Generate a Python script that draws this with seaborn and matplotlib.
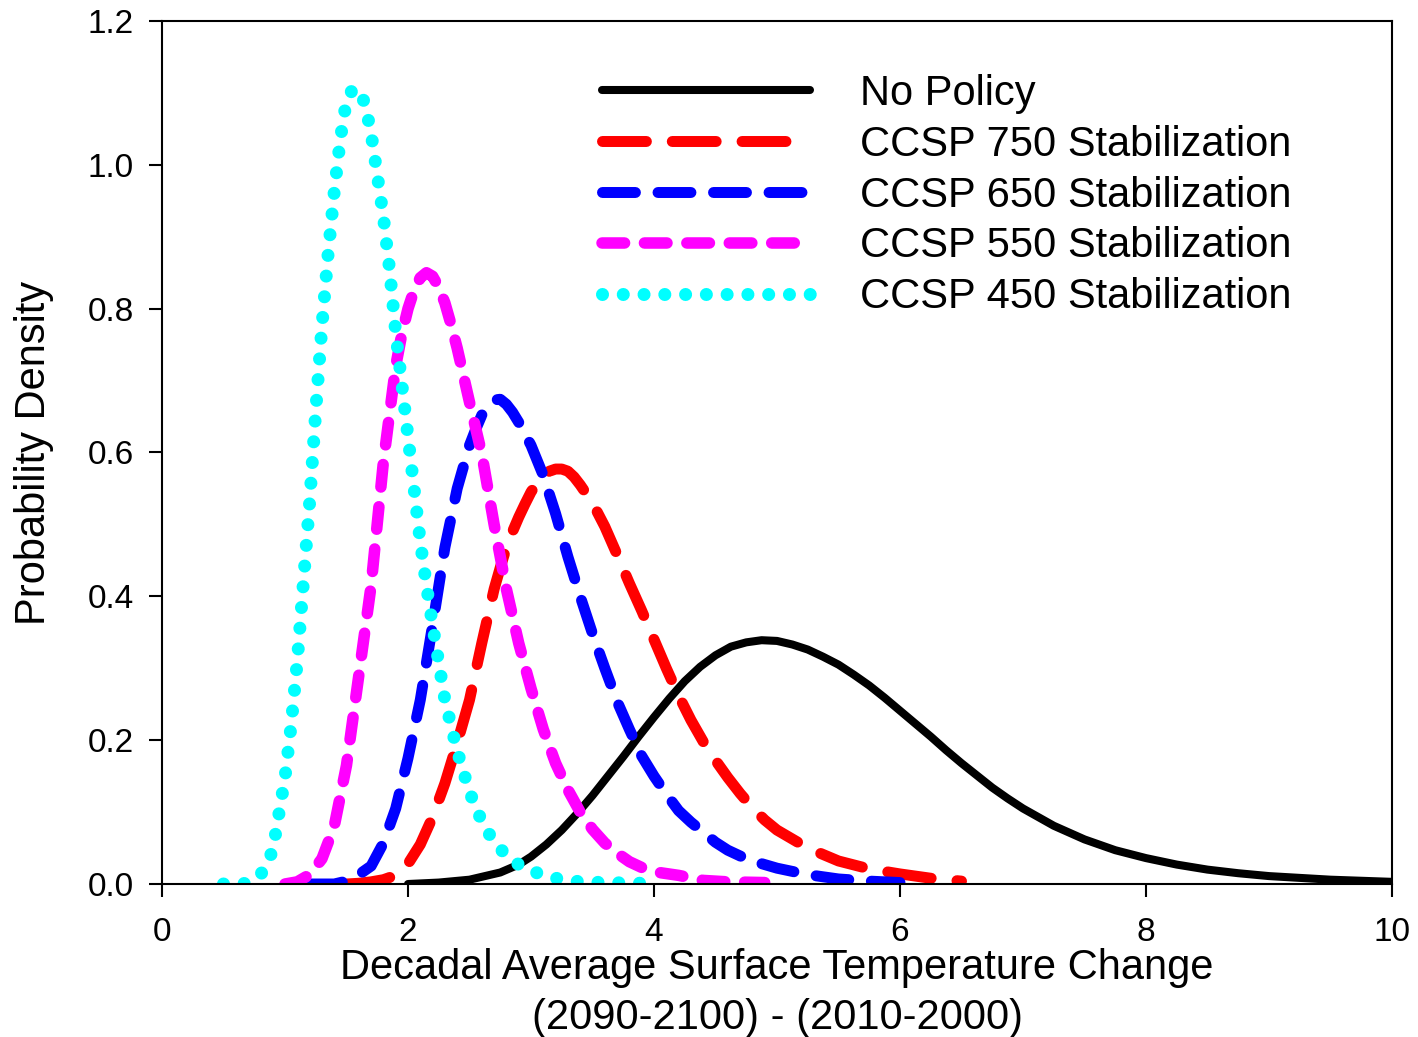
import numpy as np
import pandas as pd
import matplotlib
matplotlib.use("Agg")
import matplotlib.pyplot as plt
import seaborn as sns

# Probability density of decadal-average warming, per policy scenario
no_policy_x = [2.0, 2.25, 2.5, 2.75, 2.9, 3.0, 3.125, 3.25, 3.375, 3.5, 3.625,
               3.75, 3.875, 4.0, 4.125, 4.25, 4.375, 4.5, 4.625, 4.75, 4.875,
               5.0, 5.125, 5.25, 5.375, 5.5, 5.625, 5.75, 5.875, 6.0, 6.125,
               6.25, 6.375, 6.5, 6.625, 6.75, 6.875, 7.0, 7.25, 7.5, 7.75, 8.0,
               8.25, 8.5, 8.75, 9.0, 9.5, 10.0]
no_policy_y = [0.0, 0.002, 0.006, 0.016, 0.027, 0.038, 0.055, 0.075, 0.098,
               0.123, 0.150, 0.177, 0.205, 0.232, 0.258, 0.282, 0.302, 0.318,
               0.330, 0.336, 0.339, 0.338, 0.333, 0.326, 0.316, 0.305, 0.291,
               0.276, 0.259, 0.241, 0.223, 0.205, 0.186, 0.168, 0.151, 0.134,
               0.119, 0.105, 0.081, 0.062, 0.047, 0.036, 0.027, 0.020, 0.015,
               0.011, 0.006, 0.003]

ccsp750_x = [1.5, 1.6, 1.7, 1.8, 1.9, 2.0, 2.1, 2.2, 2.3, 2.4, 2.5, 2.6, 2.7,
             2.75, 2.8, 2.85, 2.9, 2.95, 3.0, 3.05, 3.1, 3.15, 3.2, 3.25, 3.3,
             3.35, 3.4, 3.5, 3.6, 3.7, 3.8, 3.9, 4.0, 4.1, 4.2, 4.3, 4.4, 4.5,
             4.6, 4.7, 4.8, 4.9, 5.0, 5.25, 5.5, 5.75, 6.0, 6.25, 6.5]
ccsp750_y = [0.0, 0.001, 0.003, 0.006, 0.012, 0.028, 0.055, 0.093, 0.140,
             0.196, 0.256, 0.335, 0.410, 0.440, 0.468, 0.490, 0.510, 0.528,
             0.545, 0.558, 0.568, 0.574, 0.577, 0.577, 0.574, 0.566, 0.555,
             0.530, 0.497, 0.458, 0.418, 0.380, 0.340, 0.300, 0.262, 0.228,
             0.198, 0.172, 0.148, 0.126, 0.106, 0.089, 0.075, 0.050, 0.032,
             0.021, 0.014, 0.008, 0.004]

ccsp650_x = [1.2, 1.4, 1.5, 1.6, 1.7, 1.8, 1.9, 2.0, 2.1, 2.2, 2.3, 2.4, 2.5,
             2.55, 2.6, 2.65, 2.7, 2.75, 2.8, 2.85, 2.9, 3.0, 3.1, 3.2, 3.3,
             3.4, 3.5, 3.6, 3.7, 3.8, 3.9, 4.0, 4.1, 4.2, 4.3, 4.4, 4.5, 4.6,
             4.7, 4.8, 5.0, 5.25, 5.5, 5.75, 6.0]
ccsp650_y = [0.0, 0.0, 0.004, 0.013, 0.025, 0.057, 0.105, 0.175, 0.256, 0.360,
             0.468, 0.550, 0.610, 0.632, 0.652, 0.665, 0.673, 0.674, 0.667,
             0.656, 0.642, 0.610, 0.568, 0.515, 0.455, 0.400, 0.348, 0.300,
             0.254, 0.215, 0.178, 0.150, 0.125, 0.102, 0.086, 0.072, 0.058,
             0.047, 0.039, 0.032, 0.022, 0.013, 0.007, 0.004, 0.002]

ccsp550_x = [1.0, 1.1, 1.2, 1.3, 1.4, 1.5, 1.6, 1.7, 1.8, 1.9, 1.95, 2.0, 2.05,
             2.1, 2.15, 2.2, 2.25, 2.3, 2.35, 2.4, 2.5, 2.6, 2.7, 2.8, 2.9,
             3.0, 3.1, 3.2, 3.3, 3.4, 3.5, 3.6, 3.7, 3.8, 3.9, 4.0, 4.2, 4.4,
             4.6, 4.9]
ccsp550_y = [0.0, 0.003, 0.013, 0.035, 0.080, 0.165, 0.290, 0.415, 0.587,
             0.720, 0.765, 0.800, 0.826, 0.843, 0.850, 0.845, 0.830, 0.808,
             0.778, 0.745, 0.670, 0.598, 0.500, 0.410, 0.335, 0.272, 0.215,
             0.168, 0.131, 0.100, 0.076, 0.057, 0.043, 0.031, 0.023, 0.017,
             0.012, 0.005, 0.003, 0.002]

ccsp450_x = [0.5, 0.66, 0.8, 0.9, 1.0, 1.05, 1.1, 1.15, 1.2, 1.25, 1.3, 1.35,
             1.4, 1.45, 1.5, 1.55, 1.6, 1.65, 1.7, 1.75, 1.8, 1.85, 1.9, 1.95,
             2.0, 2.05, 2.1, 2.15, 2.2, 2.3, 2.4, 2.5, 2.6, 2.7, 2.8, 2.9, 3.0,
             3.2, 3.4, 3.6, 3.9]
ccsp450_y = [0.0, 0.0, 0.012, 0.046, 0.148, 0.221, 0.31, 0.42, 0.53, 0.658,
             0.775, 0.875, 0.962, 1.036, 1.09, 1.105, 1.105, 1.085, 1.044, 0.986,
             0.928, 0.855, 0.767, 0.695, 0.622, 0.549, 0.476, 0.415, 0.36, 0.256,
             0.185, 0.128, 0.087, 0.058, 0.040, 0.027, 0.018, 0.008, 0.003, 0.002,
             0.001]

labels = ["No Policy", "CCSP 750 Stabilization", "CCSP 650 Stabilization",
          "CCSP 550 Stabilization", "CCSP 450 Stabilization"]
xs = [no_policy_x, ccsp750_x, ccsp650_x, ccsp550_x, ccsp450_x]
ys = [no_policy_y, ccsp750_y, ccsp650_y, ccsp550_y, ccsp450_y]

x_ticks = [0, 2, 4, 6, 8, 10]
y_ticks = [0.0, 0.2, 0.4, 0.6, 0.8, 1.0, 1.2]

# line styles: colour, width (pt), dash pattern in linewidth units
styles = [
    ("#000000", 5.8, None),
    ("#ff0000", 7.9, (4.0, 2.36)),
    ("#0000ff", 7.9, (3.0, 2.06)),
    ("#ff00ff", 8.3, (1.96, 1.72)),
    ("#00ffff", 9.4, (0.001, 1.59)),
]

sns.set_style("ticks")
plt.rcParams["font.family"] = ["Liberation Sans", "DejaVu Sans"]
for key in ["text.color", "axes.labelcolor", "xtick.color", "ytick.color",
            "axes.edgecolor"]:
    plt.rcParams[key] = "black"

fig = plt.figure(figsize=(14.18, 10.37), dpi=100)
ax = fig.add_axes([162 / 1418, 1 - 884 / 1037, 1230 / 1418, 863 / 1037])

for label, x, y, (color, lw, dash) in zip(labels, xs, ys, styles):
    df = pd.DataFrame({"x": x, "y": y})
    sns.lineplot(data=df, x="x", y="y", ax=ax, color=color, linewidth=lw,
                 label=label, sort=False, estimator=None)
    line = ax.lines[-1]
    line.set_solid_capstyle("round")
    line.set_dash_capstyle("round")
    line.set_solid_joinstyle("round")
    line.set_dash_joinstyle("round")
    if dash is not None:
        line.set_dashes(dash)

ax.set_xlim(0, 10)
ax.set_ylim(0, 1.2)
ax.set_xticks(x_ticks)
ax.set_xticklabels([str(t) for t in x_ticks])
ax.set_yticks(y_ticks)
ax.set_yticklabels([f"{t:.1f}" for t in y_ticks])

for side in ["left", "right", "top", "bottom"]:
    ax.spines[side].set_visible(True)
    ax.spines[side].set_linewidth(1.5)
    ax.spines[side].set_color("black")
ax.tick_params(axis="both", direction="out", length=9.5, width=1.5,
               labelsize=24, colors="black")
ax.tick_params(axis="x", pad=14)
ax.tick_params(axis="y", pad=11)
ax.tick_params(top=False, right=False)

ax.set_xlabel("Decadal Average Surface Temperature Change\n(2090-2100) - (2010-2000)",
              fontsize=30, labelpad=0, linespacing=1.32)
ax.set_ylabel("Probability Density", fontsize=30, labelpad=24)

leg = ax.legend(loc="upper left", bbox_to_anchor=(0.344, 0.958), frameon=False,
                fontsize=30, handlelength=5.0, handletextpad=1.2,
                labelspacing=0.26, borderaxespad=0)
for h in leg.get_lines():
    h.set_solid_capstyle("round")
    h.set_dash_capstyle("round")

fig.savefig("out.png", dpi=100)
